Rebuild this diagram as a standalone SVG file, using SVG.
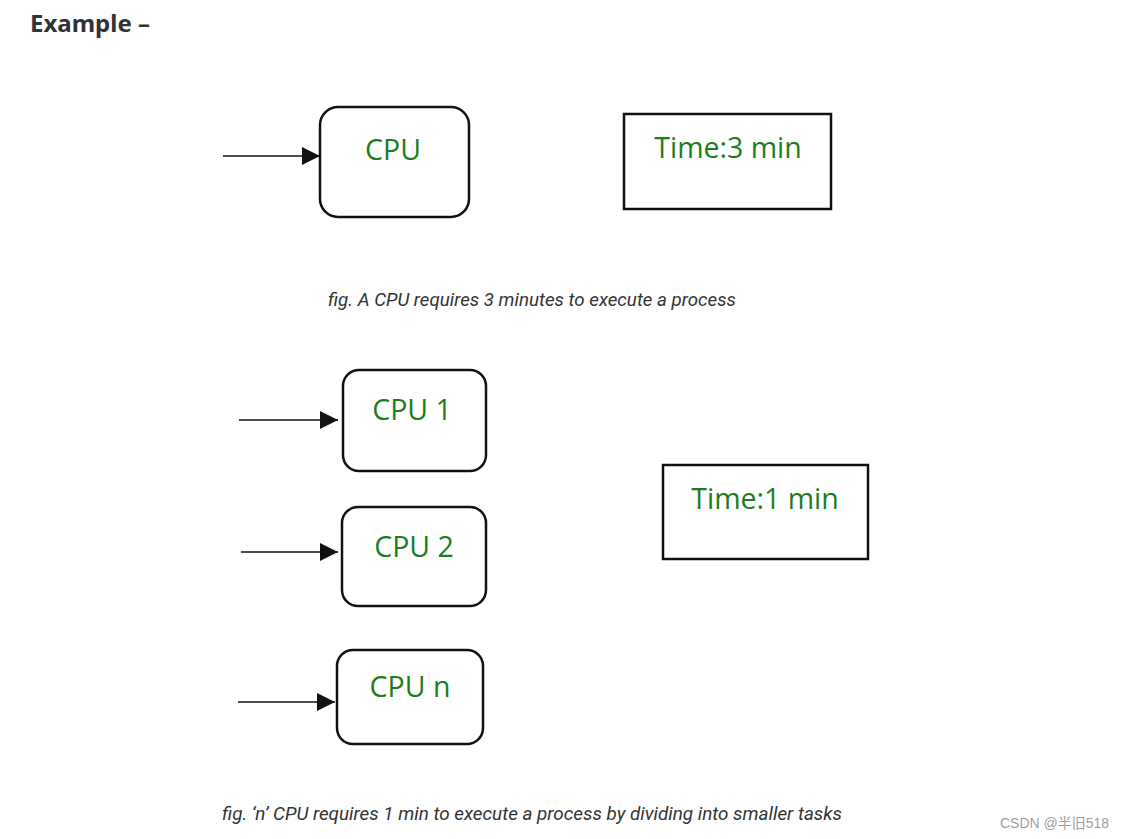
<svg xmlns="http://www.w3.org/2000/svg" width="1127" height="839" viewBox="0 0 1127 839">
<style>
.box{fill:#fff;stroke:#111;stroke-width:2.5}
.lbl{font-family:"Open Sans","Noto Sans",sans-serif;font-size:28.5px;fill:#1d7d1d;text-anchor:middle}
.cap{font-family:Roboto,"Liberation Sans",sans-serif;font-style:italic;font-size:18.8px;fill:#333}
</style>
<defs>
<marker id="ah2" viewBox="0 0 10 10" refX="10" refY="5" markerWidth="18" markerHeight="18" markerUnits="userSpaceOnUse" orient="auto">
<path d="M0,0 L10,5 L0,10 Z" fill="#111"/>
</marker>
</defs>
<rect width="1127" height="839" fill="#fff"/>
<text x="30" y="32" font-family="'Noto Sans','Open Sans',sans-serif" font-weight="bold" font-size="24" fill="#2f3237">Example –</text>
<g id="connectors">
<line x1="223" y1="156" x2="320" y2="156" stroke="#111" stroke-width="1.5" marker-end="url(#ah2)"/>
<line x1="239" y1="420" x2="338" y2="420" stroke="#111" stroke-width="1.5" marker-end="url(#ah2)"/>
<line x1="241" y1="552" x2="338" y2="552" stroke="#111" stroke-width="1.5" marker-end="url(#ah2)"/>
<line x1="238" y1="702" x2="335" y2="702" stroke="#111" stroke-width="1.5" marker-end="url(#ah2)"/>
</g>
<g id="cpu">
<rect class="box" x="320" y="107" width="149" height="110" rx="18"/>
<text class="lbl" x="393" y="160">CPU</text>
</g>
<g id="time3">
<rect class="box" x="624" y="114" width="207" height="95"/>
<text class="lbl" x="728" y="158">Time:3 min</text>
</g>
<text class="cap" x="328" y="306" textLength="408" lengthAdjust="spacingAndGlyphs">fig. A CPU requires 3 minutes to execute a process</text>
<g id="cpu1">
<rect class="box" x="343" y="370" width="143" height="101" rx="16"/>
<text class="lbl" x="412" y="420">CPU 1</text>
</g>
<g id="cpu2">
<rect class="box" x="342" y="507" width="144" height="99" rx="16"/>
<text class="lbl" x="414" y="557">CPU 2</text>
</g>
<g id="cpun">
<rect class="box" x="337" y="650" width="146" height="94" rx="16"/>
<text class="lbl" x="410" y="697">CPU n</text>
</g>
<g id="time1">
<rect class="box" x="663" y="465" width="205" height="94"/>
<text class="lbl" x="765" y="509">Time:1 min</text>
</g>
<text class="cap" x="222" y="820" textLength="620" lengthAdjust="spacingAndGlyphs">fig. ‘n’ CPU requires 1 min to execute a process by dividing into smaller tasks</text>
<text x="1000" y="828" font-family="'Liberation Sans','Noto Sans CJK SC',sans-serif" font-size="14" fill="#a0a0a0">CSDN @半旧518</text>
</svg>
